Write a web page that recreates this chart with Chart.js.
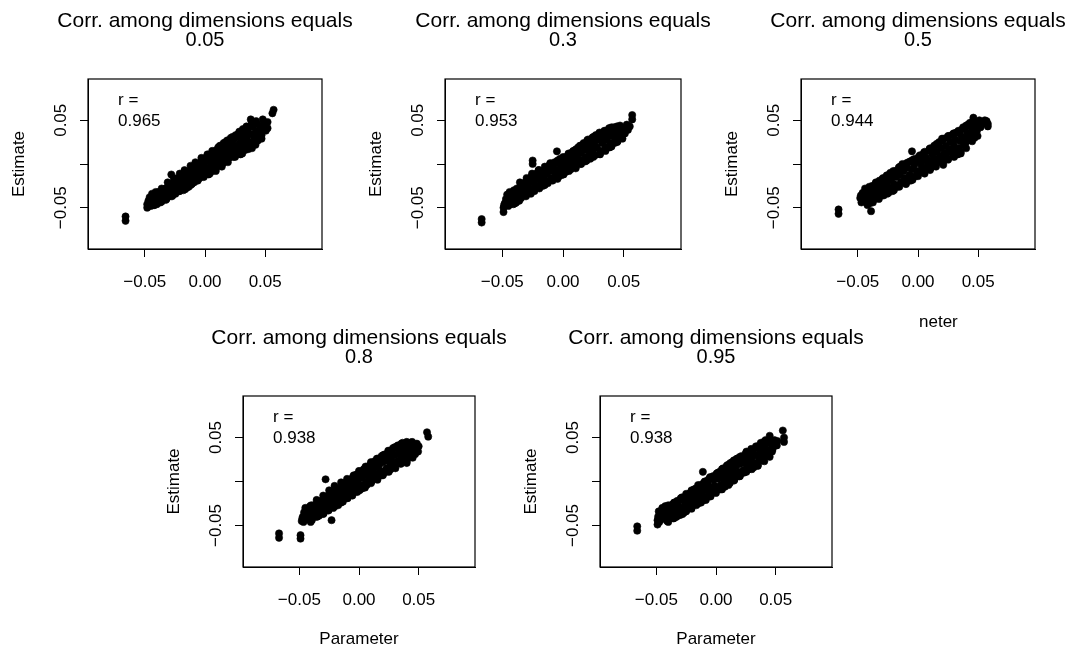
<!DOCTYPE html>
<html><head><meta charset="utf-8">
<script src="https://cdn.jsdelivr.net/npm/chart.js@4.4.1/dist/chart.umd.min.js"></script>
<style>
html,body{margin:0;padding:0;background:#fff;width:1073px;height:648px;overflow:hidden;position:relative}
canvas{position:absolute}
</style></head><body>
<script>
// ---------- data ----------
const corrLevels = ['0.05', '0.3', '0.5', '0.8', '0.95'];
const rValues = ['0.965', '0.953', '0.944', '0.938', '0.938'];
const tickValues = [-0.05, 0, 0.05];
const xTickLabels = ['\u22120.05', '0.00', '0.05'];
const yTickLabels = ['\u22120.05', '', '0.05'];
const axisMin = -0.0972, axisMax = 0.0972;

const pts005 = [[-0.066,-0.060],[-0.066,-0.065],[0.056,0.058],[0.057,0.062],
[-0.048,-0.050],[-0.048,-0.046],[-0.047,-0.042],[-0.046,-0.038],[-0.045,-0.048],[-0.044,-0.034],[-0.043,-0.044],[-0.042,-0.040],[-0.041,-0.036],[-0.040,-0.046],[-0.039,-0.032],[-0.038,-0.041],[-0.037,-0.037],[-0.036,-0.043],[-0.035,-0.030],[-0.035,-0.035],
[-0.034,-0.039],[-0.033,-0.028],[-0.032,-0.034],[-0.031,-0.038],[-0.030,-0.025],[-0.030,-0.031],[-0.029,-0.036],[-0.028,-0.012],[-0.028,-0.028],[-0.027,-0.022],[-0.026,-0.033],[-0.025,-0.026],[-0.024,-0.019],[-0.024,-0.030],[-0.023,-0.023],[-0.022,-0.016],[-0.022,-0.028],[-0.021,-0.020],[-0.020,-0.025],
[-0.019,-0.014],[-0.018,-0.030],[-0.018,-0.019],[-0.017,-0.024],[-0.016,-0.011],[-0.015,-0.017],[-0.015,-0.027],[-0.014,-0.021],[-0.013,-0.008],[-0.012,-0.014],[-0.012,-0.024],[-0.011,-0.018],[-0.010,-0.005],[-0.009,-0.011],[-0.009,-0.021],[-0.008,-0.015],[-0.007,-0.002],[-0.006,-0.008],[-0.006,-0.018],[-0.005,-0.012],[-0.004,0.001],[-0.003,-0.006],[-0.002,-0.014],[-0.001,-0.002],[0.000,-0.009],
[0.001,0.004],[0.002,-0.004],[0.003,-0.012],[0.004,0.007],[0.005,0.000],[0.006,-0.008],[0.007,0.010],[0.008,0.003],[0.009,-0.005],[0.010,0.013],[0.011,0.006],[0.011,0.019],[0.012,-0.002],[0.013,0.016],[0.014,0.009],[0.015,0.001],[0.016,0.019],[0.017,0.012],[0.018,0.004],[0.019,0.022],[0.020,0.015],[0.020,0.007],
[0.022,0.024],[0.022,0.010],[0.023,0.017],[0.024,0.028],[0.025,0.013],[0.026,0.021],[0.027,0.031],[0.028,0.016],[0.029,0.024],[0.030,0.034],[0.031,0.019],[0.032,0.028],[0.033,0.037],[0.034,0.022],[0.035,0.031],[0.036,0.040],[0.037,0.025],[0.038,0.051],[0.038,0.034],[0.039,0.018],[0.040,0.043],[0.041,0.030],[0.042,0.037],[0.043,0.046],[0.044,0.027],[0.045,0.039],[0.046,0.044],[0.047,0.033],[0.048,0.051],[0.049,0.040],[0.050,0.046],[0.052,0.041],[0.052,0.048],
[-0.0465,-0.0445],[-0.0455,-0.040],[-0.0435,-0.036],[-0.0425,-0.047],[-0.0395,-0.039],[-0.0385,-0.035],[-0.0365,-0.040],[-0.0345,-0.033],[-0.0325,-0.041],[-0.0315,-0.027],[-0.0295,-0.033],[-0.0275,-0.037],[-0.0265,-0.027],[-0.0245,-0.034],[-0.0235,-0.017],[-0.0215,-0.031],[-0.0195,-0.020],[-0.0175,-0.013],[-0.0165,-0.029],[-0.0145,-0.012],[-0.0135,-0.026],[-0.0115,-0.009],[-0.0105,-0.022],[-0.0085,-0.003],[-0.0075,-0.019],[-0.0055,-0.001],[-0.0045,-0.016],[-0.0025,0.004],[-0.0015,-0.012],[0.0005,0.007],[0.0015,-0.010],[0.0035,0.010],[0.0045,-0.007],[0.0065,0.013],[0.0075,-0.005],[0.0095,0.016],[0.0105,-0.001],[0.0125,0.021],[0.0135,0.002],[0.0155,0.024],[0.0165,0.005],[0.0185,0.027],[0.0195,0.010],[0.0215,0.030],[0.0235,0.008],[0.0255,0.033],[0.0265,0.014],[0.0285,0.037],[0.0295,0.011],[0.0315,0.040],[0.0335,0.016],[0.0345,0.043],[0.0365,0.020],[0.0385,0.045],[0.0405,0.024],[0.0425,0.049],[0.0445,0.033],[0.0465,0.038],[0.0485,0.044],[0.0505,0.038],
[-0.041,-0.032],[-0.036,-0.028],[-0.031,-0.021],[-0.026,-0.016],[-0.021,-0.011],[-0.017,-0.007],[-0.012,-0.002],[-0.008,0.002],[-0.003,0.007],[0.002,0.011],[0.006,0.015],[0.012,0.020],[0.017,0.025],[0.023,0.031],[0.028,0.035],[0.034,0.041],[0.040,0.046],
[-0.042,-0.047],[-0.037,-0.044],[-0.032,-0.040],[-0.027,-0.036],[-0.021,-0.031],[-0.016,-0.027],[-0.011,-0.023],[-0.006,-0.019],[-0.001,-0.015],[0.004,-0.011],[0.009,-0.008],[0.014,-0.003],[0.019,0.002],[0.025,0.008],[0.031,0.012],[0.036,0.017],[0.042,0.022],[0.047,0.029]];

const pts03 = [[-0.067,-0.063],[-0.067,-0.067],[0.057,0.051],[0.057,0.056],[0.055,0.043],[-0.025,0.000],[-0.025,0.004],[-0.005,0.0145],
[-0.049,-0.055],[-0.049,-0.050],[-0.048,-0.045],[-0.047,-0.040],[-0.046,-0.035],[-0.045,-0.048],[-0.044,-0.032],[-0.043,-0.042],[-0.042,-0.037],[-0.041,-0.046],[-0.040,-0.033],[-0.040,-0.045],[-0.039,-0.040],[-0.038,-0.028],[-0.037,-0.035],[-0.036,-0.042],[-0.035,-0.031],[-0.035,-0.025],
[-0.034,-0.035],[-0.033,-0.022],[-0.032,-0.029],[-0.031,-0.034],[-0.030,-0.019],[-0.029,-0.026],[-0.028,-0.032],[-0.027,-0.021],[-0.026,-0.014],[-0.025,-0.028],[-0.024,-0.019],[-0.023,-0.024],[-0.022,-0.011],[-0.021,-0.017],[-0.020,-0.026],[-0.020,-0.007],
[-0.019,-0.013],[-0.018,-0.021],[-0.017,-0.008],[-0.016,-0.016],[-0.015,-0.024],[-0.014,-0.004],[-0.013,-0.011],[-0.012,-0.019],[-0.011,-0.001],[-0.010,-0.008],[-0.009,-0.016],[-0.008,-0.004],[-0.007,0.002],[-0.006,-0.012],[-0.005,-0.007],[-0.004,-0.015],[-0.003,0.004],[-0.002,-0.003],[-0.001,-0.010],[0.000,0.001],
[0.001,-0.006],[0.002,0.008],[0.003,0.002],[0.004,-0.005],[0.005,0.011],[0.006,0.004],[0.007,-0.003],[0.008,0.014],[0.009,0.007],[0.010,0.000],[0.011,0.017],[0.012,0.010],[0.013,0.003],[0.014,0.021],[0.015,0.013],[0.016,0.005],[0.017,0.024],[0.018,0.016],[0.019,0.008],[0.020,0.027],[0.020,0.019],
[0.022,0.012],[0.023,0.022],[0.024,0.030],[0.025,0.016],[0.026,0.025],[0.027,0.033],[0.028,0.019],[0.029,0.028],[0.030,0.036],[0.031,0.015],[0.032,0.024],[0.033,0.031],[0.034,0.038],[0.035,0.020],[0.036,0.028],[0.037,0.035],[0.038,0.041],[0.039,0.024],[0.040,0.032],[0.041,0.038],[0.042,0.042],[0.043,0.028],[0.044,0.035],[0.045,0.040],[0.045,0.026],[0.046,0.031],[0.047,0.044],[0.048,0.038],[0.049,0.029],[0.050,0.041],[0.051,0.035],
[-0.0485,-0.047],[-0.0465,-0.043],[-0.0455,-0.038],[-0.0435,-0.046],[-0.0425,-0.034],[-0.0405,-0.038],[-0.0385,-0.044],[-0.0365,-0.030],[-0.0345,-0.039],[-0.0325,-0.026],[-0.0305,-0.037],[-0.0285,-0.022],[-0.0265,-0.034],[-0.0245,-0.015],[-0.0235,-0.031],[-0.0215,-0.013],[-0.0195,-0.028],[-0.0175,-0.010],[-0.0165,-0.025],[-0.0145,-0.007],[-0.0125,-0.022],[-0.0105,-0.003],[-0.0085,-0.019],[-0.0065,0.001],[-0.0045,-0.017],[-0.0025,0.006],[-0.0015,-0.013],[0.0005,0.005],[0.0025,-0.009],[0.0045,0.012],[0.0065,-0.006],[0.0085,0.015],[0.0105,-0.003],[0.0125,0.019],[0.0145,0.000],[0.0165,0.022],[0.0185,0.003],[0.0205,0.025],[0.0225,0.006],[0.0245,0.027],[0.0265,0.010],[0.0285,0.033],[0.0305,0.012],[0.0325,0.035],[0.0345,0.016],[0.0365,0.038],[0.0385,0.019],[0.0405,0.041],[0.0425,0.024],[0.0445,0.043],[0.0475,0.036],[0.0525,0.045],[0.0535,0.039],
[-0.0405,-0.030],[-0.0355,-0.021],[-0.0300,-0.016],[-0.0255,-0.011],[-0.0200,-0.007],[-0.0150,-0.003],[-0.0105,0.001],[-0.0045,0.004],[0.0000,0.008],[0.0055,0.012],[0.0100,0.016],[0.0150,0.021],[0.0205,0.028],[0.0250,0.031],[0.0305,0.035],[0.0350,0.038],[0.0400,0.042],
[-0.0395,-0.045],[-0.0345,-0.036],[-0.0305,-0.033],[-0.0250,-0.030],[-0.0205,-0.026],[-0.0155,-0.023],[-0.0100,-0.018],[-0.0055,-0.015],[0.0005,-0.012],[0.0050,-0.008],[0.0105,-0.005],[0.0150,0.000],[0.0195,0.004],[0.0250,0.008],[0.0305,0.011],[0.0350,0.015],[0.0400,0.020],[0.0445,0.025]];

const pts05 = [[-0.066,-0.052],[-0.066,-0.057],[-0.005,0.0145],[0.057,0.049],[0.058,0.043],[0.058,0.046],
[-0.048,-0.039],[-0.047,-0.044],[-0.046,-0.033],[-0.044,-0.028],[-0.044,-0.040],[-0.042,-0.047],[-0.042,-0.035],[-0.041,-0.030],[-0.040,-0.042],[-0.039,-0.054],[-0.039,-0.036],[-0.038,-0.025],[-0.037,-0.032],[-0.036,-0.040],
[-0.035,-0.022],[-0.034,-0.029],[-0.033,-0.036],[-0.032,-0.019],[-0.031,-0.026],[-0.030,-0.033],[-0.029,-0.016],[-0.028,-0.023],[-0.027,-0.030],[-0.026,-0.013],[-0.025,-0.020],[-0.024,-0.027],[-0.023,-0.010],[-0.022,-0.017],[-0.021,-0.031],[-0.020,-0.023],
[-0.019,-0.008],[-0.018,-0.015],[-0.017,-0.026],[-0.016,-0.004],[-0.015,-0.012],[-0.014,-0.020],[-0.013,0.000],[-0.012,-0.008],[-0.011,-0.016],[-0.010,-0.023],[-0.009,-0.004],[-0.008,0.002],[-0.007,-0.012],[-0.006,-0.019],[-0.005,-0.006],[-0.004,0.005],[-0.003,-0.001],[-0.002,-0.014],[-0.001,-0.008],[0.000,0.002],
[0.001,-0.010],[0.002,0.008],[0.003,-0.003],[0.004,0.004],[0.005,0.012],[0.006,-0.006],[0.007,0.007],[0.008,0.000],[0.009,0.015],[0.010,0.004],[0.011,-0.004],[0.012,0.011],[0.013,0.019],[0.014,0.006],[0.015,0.000],[0.016,0.014],[0.017,0.022],[0.018,0.009],[0.019,0.018],[0.020,0.027],[0.021,-0.001],
[0.022,0.013],[0.023,0.021],[0.024,0.030],[0.025,0.006],[0.026,0.017],[0.027,0.025],[0.028,0.033],[0.029,0.012],[0.030,0.021],[0.031,0.028],[0.032,0.036],[0.033,0.011],[0.034,0.018],[0.035,0.026],[0.036,0.032],[0.037,0.040],[0.038,0.022],[0.039,0.030],[0.040,0.044],[0.041,0.036],[0.042,0.027],[0.043,0.047],[0.044,0.034],[0.045,0.041],[0.046,0.053],[0.047,0.030],[0.048,0.045],[0.049,0.038],[0.051,0.050],[0.052,0.042],
[-0.0475,-0.036],[-0.0455,-0.042],[-0.0435,-0.032],[-0.0415,-0.039],[-0.0395,-0.028],[-0.0375,-0.044],[-0.0355,-0.034],[-0.0345,-0.024],[-0.0325,-0.040],[-0.0305,-0.021],[-0.0285,-0.036],[-0.0265,-0.018],[-0.0245,-0.033],[-0.0225,-0.014],[-0.0205,-0.029],[-0.0185,-0.011],[-0.0165,-0.024],[-0.0145,-0.006],[-0.0125,-0.021],[-0.0105,-0.001],[-0.0085,-0.018],[-0.0065,0.003],[-0.0045,-0.015],[-0.0025,0.006],[-0.0005,-0.011],[0.0015,0.010],[0.0035,-0.008],[0.0055,0.014],[0.0075,-0.005],[0.0095,0.017],[0.0115,-0.001],[0.0135,0.021],[0.0155,0.002],[0.0175,0.025],[0.0195,0.004],[0.0215,0.029],[0.0235,0.009],[0.0255,0.032],[0.0275,0.014],[0.0295,0.035],[0.0315,0.016],[0.0335,0.038],[0.0355,0.014],[0.0375,0.042],[0.0395,0.024],[0.0415,0.045],[0.0435,0.030],[0.0455,0.047],[0.0475,0.038],[0.0495,0.032],[0.0535,0.046],[0.0555,0.050],
[-0.0405,-0.026],[-0.0350,-0.021],[-0.0295,-0.017],[-0.0250,-0.013],[-0.0205,-0.008],[-0.0150,-0.003],[-0.0095,0.001],[-0.0050,0.004],[0.0005,0.008],[0.0050,0.013],[0.0100,0.018],[0.0155,0.023],[0.0200,0.029],[0.0250,0.032],[0.0305,0.035],[0.0350,0.038],[0.0400,0.043],[0.0450,0.048],
[-0.0400,-0.045],[-0.0345,-0.039],[-0.0300,-0.036],[-0.0255,-0.034],[-0.0200,-0.030],[-0.0155,-0.026],[-0.0100,-0.022],[-0.0045,-0.018],[0.0000,-0.014],[0.0055,-0.011],[0.0100,-0.007],[0.0150,-0.003],[0.0205,0.001],[0.0250,0.005],[0.0300,0.008],[0.0355,0.012],[0.0400,0.018],[0.0450,0.026]];

const pts08 = [[-0.067,-0.059],[-0.067,-0.064],[-0.049,-0.061],[-0.049,-0.065],[0.057,0.056],[0.058,0.051],[-0.028,0.0025],[-0.023,-0.044],
[-0.048,-0.045],[-0.047,-0.040],[-0.046,-0.035],[-0.045,-0.030],[-0.044,-0.043],[-0.043,-0.038],[-0.042,-0.033],[-0.041,-0.028],[-0.040,-0.041],[-0.039,-0.036],[-0.038,-0.027],[-0.037,-0.032],[-0.036,-0.040],[-0.035,-0.024],
[-0.034,-0.030],[-0.033,-0.036],[-0.032,-0.022],[-0.031,-0.028],[-0.030,-0.034],[-0.029,-0.019],[-0.028,-0.025],[-0.027,-0.032],[-0.026,-0.016],[-0.025,-0.022],[-0.024,-0.029],[-0.023,-0.013],[-0.022,-0.020],[-0.021,-0.027],[-0.020,-0.010],
[-0.019,-0.017],[-0.018,-0.024],[-0.017,-0.008],[-0.016,-0.014],[-0.015,-0.021],[-0.014,-0.004],[-0.013,-0.011],[-0.012,-0.018],[-0.011,-0.001],[-0.010,-0.008],[-0.009,-0.015],[-0.008,0.002],[-0.007,-0.005],[-0.006,-0.012],[-0.005,0.005],[-0.004,-0.002],[-0.003,-0.009],[-0.002,0.008],[-0.001,0.001],[0.000,-0.006],
[0.001,0.011],[0.002,0.004],[0.003,-0.004],[0.004,0.014],[0.005,0.007],[0.006,0.000],[0.007,0.017],[0.008,0.010],[0.009,0.003],[0.010,0.020],[0.011,0.013],[0.012,0.006],[0.013,0.023],[0.014,0.016],[0.015,0.009],[0.016,0.026],[0.017,0.019],[0.018,0.012],[0.019,0.029],[0.020,0.022],[0.020,0.008],
[0.022,0.031],[0.023,0.015],[0.024,0.024],[0.025,0.033],[0.026,0.018],[0.027,0.027],[0.028,0.036],[0.029,0.021],[0.030,0.030],[0.031,0.039],[0.032,0.023],[0.033,0.032],[0.034,0.040],[0.035,0.026],[0.036,0.034],[0.037,0.042],[0.038,0.028],[0.039,0.036],[0.040,0.021],[0.041,0.031],[0.042,0.038],[0.043,0.044],[0.044,0.028],[0.045,0.035],[0.046,0.041],[0.047,0.031],[0.048,0.038],[0.050,0.040],
[-0.0475,-0.042],[-0.0465,-0.046],[-0.0445,-0.036],[-0.0425,-0.043],[-0.0405,-0.031],[-0.0395,-0.044],[-0.0375,-0.038],[-0.0355,-0.028],[-0.0335,-0.039],[-0.0315,-0.024],[-0.0295,-0.036],[-0.0275,-0.020],[-0.0255,-0.033],[-0.0235,-0.017],[-0.0215,-0.030],[-0.0195,-0.012],[-0.0175,-0.027],[-0.0155,-0.009],[-0.0135,-0.023],[-0.0115,-0.005],[-0.0095,-0.019],[-0.0075,-0.001],[-0.0055,-0.016],[-0.0035,0.004],[-0.0015,-0.012],[0.0005,0.008],[0.0025,-0.008],[0.0045,0.011],[0.0065,-0.004],[0.0085,0.016],[0.0105,0.000],[0.0125,0.020],[0.0145,0.004],[0.0165,0.024],[0.0185,0.007],[0.0205,0.030],[0.0225,0.011],[0.0245,0.035],[0.0265,0.014],[0.0285,0.038],[0.0305,0.019],[0.0325,0.041],[0.0345,0.022],[0.0365,0.044],[0.0385,0.025],[0.0405,0.043],[0.0425,0.030],[0.0445,0.045],[0.0465,0.036],[0.0485,0.043],[0.0495,0.034],
[-0.0400,-0.027],[-0.0355,-0.021],[-0.0300,-0.016],[-0.0250,-0.010],[-0.0205,-0.005],[-0.0150,-0.001],[-0.0100,0.003],[-0.0045,0.007],[0.0000,0.012],[0.0055,0.017],[0.0100,0.022],[0.0150,0.026],[0.0205,0.030],[0.0250,0.034],[0.0300,0.039],[0.0355,0.043],[0.0400,0.045],
[-0.0405,-0.046],[-0.0350,-0.040],[-0.0300,-0.037],[-0.0255,-0.032],[-0.0200,-0.028],[-0.0150,-0.024],[-0.0105,-0.019],[-0.0050,-0.013],[0.0005,-0.010],[0.0050,-0.007],[0.0100,-0.002],[0.0155,0.002],[0.0200,0.007],[0.0250,0.011],[0.0305,0.015],[0.0350,0.020],[0.0400,0.023],[0.0450,0.027]];

const pts095 = [[-0.066,-0.051],[-0.066,-0.056],[-0.011,0.011],[0.056,0.058],[0.057,0.050],[0.057,0.045],
[-0.049,-0.049],[-0.049,-0.044],[-0.048,-0.034],[-0.047,-0.039],[-0.046,-0.043],[-0.045,-0.030],[-0.044,-0.036],[-0.043,-0.041],[-0.042,-0.032],[-0.041,-0.045],[-0.040,-0.027],[-0.039,-0.037],[-0.038,-0.042],[-0.037,-0.031],[-0.036,-0.038],[-0.035,-0.024],
[-0.034,-0.033],[-0.033,-0.040],[-0.032,-0.027],[-0.031,-0.035],[-0.030,-0.021],[-0.029,-0.030],[-0.028,-0.037],[-0.027,-0.019],[-0.026,-0.026],[-0.025,-0.033],[-0.024,-0.015],[-0.023,-0.023],[-0.022,-0.030],[-0.021,-0.012],[-0.020,-0.020],[-0.020,-0.027],
[-0.019,-0.015],[-0.018,-0.024],[-0.017,-0.008],[-0.016,-0.018],[-0.015,-0.011],[-0.014,-0.021],[-0.013,-0.004],[-0.012,-0.014],[-0.011,-0.007],[-0.010,-0.018],[-0.009,0.000],[-0.008,-0.010],[-0.007,-0.003],[-0.006,-0.015],[-0.005,0.004],[-0.004,-0.006],[-0.003,-0.012],[-0.002,0.002],[-0.001,-0.005],[0.000,0.007],
[0.001,-0.008],[0.002,0.003],[0.003,0.011],[0.004,-0.004],[0.005,0.006],[0.006,0.015],[0.007,0.000],[0.008,0.009],[0.009,0.018],[0.010,0.003],[0.011,0.012],[0.012,0.021],[0.013,0.006],[0.014,0.015],[0.015,0.024],[0.016,0.009],[0.017,0.018],[0.018,0.026],[0.019,0.011],[0.020,0.020],[0.020,0.006],
[0.022,0.027],[0.023,0.013],[0.024,0.021],[0.025,0.030],[0.026,0.016],[0.027,0.024],[0.028,0.033],[0.029,0.018],[0.030,0.027],[0.031,0.036],[0.032,0.021],[0.033,0.030],[0.034,0.038],[0.035,0.018],[0.036,0.027],[0.037,0.034],[0.038,0.041],[0.039,0.024],[0.040,0.031],[0.041,0.038],[0.042,0.044],[0.043,0.029],[0.044,0.036],[0.045,0.052],[0.046,0.043],[0.047,0.034],[0.048,0.040],[0.049,0.047],[0.051,0.041],
[-0.0485,-0.040],[-0.0475,-0.046],[-0.0455,-0.035],[-0.0445,-0.042],[-0.0425,-0.028],[-0.0405,-0.040],[-0.0385,-0.033],[-0.0365,-0.026],[-0.0345,-0.041],[-0.0325,-0.022],[-0.0305,-0.038],[-0.0285,-0.018],[-0.0265,-0.035],[-0.0245,-0.021],[-0.0225,-0.014],[-0.0205,-0.031],[-0.0185,-0.009],[-0.0165,-0.027],[-0.0145,-0.006],[-0.0125,-0.024],[-0.0105,-0.002],[-0.0085,-0.021],[-0.0065,0.002],[-0.0045,-0.017],[-0.0025,0.006],[-0.0005,-0.012],[0.0015,0.010],[0.0035,-0.009],[0.0055,0.014],[0.0075,-0.006],[0.0095,0.013],[0.0115,-0.002],[0.0135,0.022],[0.0155,0.002],[0.0175,0.026],[0.0195,0.006],[0.0215,0.029],[0.0235,0.010],[0.0255,0.034],[0.0275,0.014],[0.0295,0.037],[0.0315,0.016],[0.0335,0.040],[0.0355,0.022],[0.0375,0.044],[0.0395,0.028],[0.0415,0.047],[0.0435,0.032],[0.0455,0.045],[0.0475,0.037],[0.0495,0.044],[0.0515,0.046],
[-0.0405,-0.029],[-0.0350,-0.024],[-0.0295,-0.019],[-0.0250,-0.014],[-0.0205,-0.010],[-0.0150,-0.004],[-0.0095,0.000],[-0.0050,0.005],[0.0005,0.009],[0.0050,0.014],[0.0100,0.019],[0.0155,0.024],[0.0200,0.028],[0.0250,0.032],[0.0305,0.036],[0.0350,0.040],[0.0400,0.045],
[-0.0400,-0.046],[-0.0355,-0.042],[-0.0300,-0.038],[-0.0250,-0.034],[-0.0205,-0.030],[-0.0150,-0.025],[-0.0100,-0.021],[-0.0055,-0.017],[0.0000,-0.013],[0.0050,-0.009],[0.0105,-0.004],[0.0150,0.001],[0.0200,0.007],[0.0255,0.011],[0.0300,0.014],[0.0350,0.018],[0.0405,0.023],[0.0450,0.028]];

const panelPoints = [pts005, pts03, pts05, pts08, pts095];
const xAxisTitles = [null, null, null, 'Parameter', 'Parameter'];
const partialXLabels = [null, null, 'neter', null, null];

// ---------- layout (plot box in page pixels) ----------
const boxes = [
  {l: 88,  r: 322,  t: 79,  b: 249},
  {l: 445, r: 681,  t: 79,  b: 249},
  {l: 801, r: 1035, t: 79,  b: 249},
  {l: 243, r: 475,  t: 396, b: 567},
  {l: 600, r: 832,  t: 396, b: 567}
];
const FONT = '"Liberation Sans", Arial, Helvetica, sans-serif';
const LEFT_W = 90, RIGHT_W = 60, TOP_H = 79, BOTTOM_H = 81;

const panelDecor = {
  id: 'panelDecor',
  afterDraw(chart, args, opts) {
    const {ctx, chartArea: a} = chart;
    ctx.save();
    ctx.strokeStyle = '#000';
    ctx.lineWidth = 1.2;
    ctx.strokeRect(a.left, a.top, a.right - a.left, a.bottom - a.top);
    ctx.fillStyle = '#000';
    ctx.textBaseline = 'middle';
    ctx.textAlign = 'center';
    const cx = (a.left + a.right) / 2;
    ctx.font = '21px ' + FONT;
    ctx.fillText('Corr. among dimensions equals', cx, a.top - 58);
    ctx.font = '20px ' + FONT;
    ctx.fillText(opts.level, cx, a.top - 39);
    ctx.font = '17px ' + FONT;
    ctx.textAlign = 'left';
    ctx.fillText('r =', a.left + 30, a.top + 21);
    ctx.fillText(opts.r, a.left + 30, a.top + 42);
    if (opts.partial) {
      ctx.fillText(opts.partial, cx + 1, a.bottom + 73);
    }
    ctx.restore();
  }
};

panelPoints.forEach((pts, i) => {
  const b = boxes[i];
  const cv = document.createElement('canvas');
  const w = LEFT_W + (b.r - b.l) + RIGHT_W;
  const h = TOP_H + (b.b - b.t) + BOTTOM_H;
  cv.width = w; cv.height = h;
  cv.style.left = (b.l - LEFT_W) + 'px';
  cv.style.top = (b.t - TOP_H) + 'px';
  cv.style.width = w + 'px'; cv.style.height = h + 'px';
  document.body.appendChild(cv);

  const tickFont = {family: FONT, size: 17};
  new Chart(cv, {
    type: 'scatter',
    data: {
      datasets: [{
        data: pts.map(p => ({x: p[0], y: p[1]})),
        pointRadius: 3.6,
        pointBorderWidth: 0.6,
        pointBackgroundColor: '#000',
        pointBorderColor: '#000',
        pointHoverRadius: 3.6
      }]
    },
    options: {
      responsive: false,
      animation: false,
      events: [],
      layout: {padding: {top: TOP_H, left: 0, right: RIGHT_W, bottom: 0}},
      plugins: {
        legend: {display: false},
        tooltip: {enabled: false},
        panelDecor: {level: corrLevels[i], r: rValues[i], partial: partialXLabels[i]}
      },
      scales: {
        x: {
          type: 'linear', position: 'bottom',
          min: axisMin, max: axisMax,
          afterBuildTicks: s => { s.ticks = tickValues.map(v => ({value: v})); },
          afterFit: s => { s.height = BOTTOM_H; },
          ticks: {
            autoSkip: false, maxRotation: 0, minRotation: 0,
            color: '#000', font: tickFont, padding: 15,
            callback: (v, idx) => xTickLabels[idx]
          },
          grid: {display: true, drawOnChartArea: false, drawTicks: true, tickLength: 8, color: '#000', lineWidth: 1},
          border: {display: true, color: '#000', width: 1},
          title: {display: !!xAxisTitles[i], text: xAxisTitles[i] || '', color: '#000',
                  font: {family: FONT, size: 17}, padding: {top: 0, bottom: -2}}
        },
        y: {
          type: 'linear', position: 'left',
          min: axisMin, max: axisMax,
          afterBuildTicks: s => { s.ticks = tickValues.map(v => ({value: v})); },
          afterFit: s => { s.width = LEFT_W; },
          ticks: {
            autoSkip: false, minRotation: 90, maxRotation: 90, crossAlign: 'center',
            color: '#000', font: tickFont, padding: -3,
            callback: (v, idx) => yTickLabels[idx]
          },
          grid: {display: true, drawOnChartArea: false, drawTicks: true, tickLength: 8, color: '#000', lineWidth: 1},
          border: {display: true, color: '#000', width: 1},
          title: {display: true, text: 'Estimate', color: '#000',
                  font: {family: FONT, size: 17}, padding: {top: 11, bottom: 0}}
        }
      }
    },
    plugins: [panelDecor]
  });
});
</script>
</body></html>
